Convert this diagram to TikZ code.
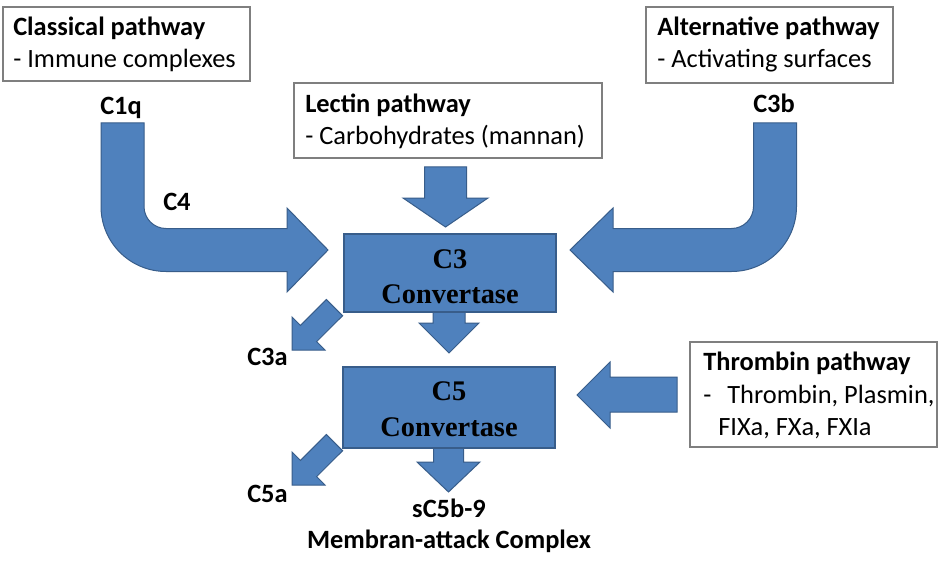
\documentclass[tikz,border=0pt]{standalone}
\usepackage{fontspec}
\setmainfont{Carlito}
\newfontfamily\convserif{Liberation Serif}
\usetikzlibrary{fit}
\definecolor{blockblue}{HTML}{4F81BD}
\definecolor{blockedge}{HTML}{385D8A}
\definecolor{boxgray}{HTML}{7F7F7F}
\newcommand\lblfont{\fontsize{19.8}{24}\selectfont}
\newcommand\convfont{\convserif\bfseries\fontsize{21.3}{26}\selectfont}
\tikzset{
  blk/.style={fill=blockblue, draw=blockedge, line width=0.75pt, line join=miter},
  tbox/.style={draw=boxgray, line width=0.9pt, inner sep=0pt, fill=white},
  cbox/.style={fill=blockblue, draw=blockedge, line width=1pt, inner sep=0pt},
  lbl/.style={anchor=base west, inner sep=0pt, font=\lblfont},
  lblb/.style={lbl, font=\lblfont\bfseries},
  lblc/.style={anchor=base, inner sep=0pt, font=\lblfont\bfseries},
  conv/.style={anchor=base, inner sep=0pt, font=\convfont},
}
\begin{document}
\begin{tikzpicture}[x=0.75pt,y=-0.75pt]
\fill[white] (0,0) rectangle (938,563);
\useasboundingbox (0,0) rectangle (938,563);

% ---- block arrows ----
% classical (bent)
\draw[blk] (101,123) -- (101,206.5) .. controls (101,242.4) and (130.1,271.5) .. (166,271.5)
  -- (287,271.5) -- (287,292) -- (328,250) -- (287,208) -- (287,228.5) -- (166,228.5)
  .. controls (153.85,228.5) and (144,218.65) .. (144,206.5) -- (144,123) -- cycle;
% alternative (bent)
\draw[blk] (796.5,123) -- (796.5,206.5) .. controls (796.5,242.4) and (767.4,271.5) .. (731.5,271.5)
  -- (613,271.5) -- (613,292) -- (570,250) -- (613,208) -- (613,228.5) -- (731.5,228.5)
  .. controls (743.65,228.5) and (753.5,218.65) .. (753.5,206.5) -- (753.5,123) -- cycle;
% lectin down
\draw[blk] (424.5,167) -- (466.5,167) -- (466.5,198) -- (488,198) -- (445.5,227) -- (403,198) -- (424.5,198) -- cycle;
% C3 -> C5
\draw[blk] (433,310) -- (465,310) -- (465,323) -- (479,323) -- (449,353) -- (419,323) -- (433,323) -- cycle;
% C5 -> MAC
\draw[blk] (433.5,446) -- (463.5,446) -- (463.5,462) -- (480,462) -- (448.5,492) -- (417,462) -- (433.5,462) -- cycle;
% thrombin
\draw[blk] (677,377) -- (677,412) -- (610,412) -- (610,428) -- (577,395) -- (610,362) -- (610,377) -- cycle;
% C3a diagonal
\draw[blk] (292,350) -- (325,350) -- (316.6,341.6) -- (342.6,315.7) -- (326.3,299.5) -- (300.4,325.4) -- (292,317) -- cycle;
% C5a diagonal
\begin{scope}[shift={(0,135)}]
\draw[blk] (292,350) -- (325,350) -- (316.6,341.6) -- (342.6,315.7) -- (326.3,299.5) -- (300.4,325.4) -- (292,317) -- cycle;
\end{scope}

% ---- convertase boxes ----
\node[cbox, fit={(344,234) (556,312)}] (c3box) {};
\node[cbox, fit={(343,367) (555,448)}] (c5box) {};
\node[conv] (c3t1) at (450,268) {C3};
\node[conv] (c3t2) at (450,303) {Convertase};
\node[conv] (c5t1) at (449,400) {C5};
\node[conv] (c5t2) at (449,436) {Convertase};

% ---- pathway boxes ----
\node[tbox, fit={(3,7) (250,81)}] (classbox) {};
\node[lblb] (classt) at (13,36) {Classical pathway};
\node[lbl] (classs) at (13,68) {- Immune complexes};

\node[tbox, fit={(294,83) (602,158)}] (lectbox) {};
\node[lblb] (lectt) at (305,113) {Lectin pathway};
\node[lbl] (lects) at (305,145) {- Carbohydrates (mannan)};

\node[tbox, fit={(646,7) (893,83)}] (altbox) {};
\node[lblb] (altt) at (657,36) {Alternative pathway};
\node[lbl] (alts) at (657,68) {- Activating surfaces};

\node[tbox, fit={(690,342) (937,447)}] (thrbox) {};
\node[lblb] (thrt) at (703,370) {Thrombin pathway};
\node[lbl] (thrs1) at (703,403) {-\hspace{12pt}Thrombin, Plasmin,};
\node[lbl] (thrs2) at (718,435) {FIXa, FXa, FXIa};

% ---- labels ----
\node[lblb] (c1q) at (100,115) {C1q};
\node[lblb] (c4) at (163,210) {C4};
\node[lblb] (c3b) at (753,113) {C3b};
\node[lblb] (c3a) at (247,365) {C3a};
\node[lblb] (c5a) at (247,502) {C5a};
\node[lblc] (sc5b) at (449,517) {sC5b-9};
\node[lblc] (mac) at (449,548) {Membran-attack Complex};
\end{tikzpicture}
\end{document}
